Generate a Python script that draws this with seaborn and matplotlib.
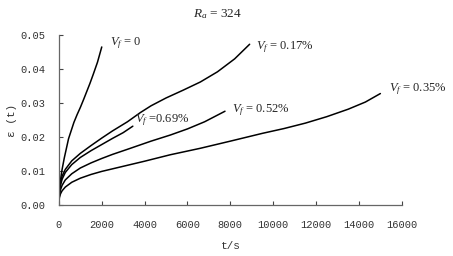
import numpy as np
import pandas as pd
import matplotlib
matplotlib.use("Agg")
import matplotlib.pyplot as plt
import seaborn as sns

# creep strain curves, Ra = 324
t_0 = [0, 25, 50, 100, 150, 250, 450, 700, 850, 1000, 1150, 1300, 1450, 1600, 1800, 2000]
eps_0 = [0.001, 0.004, 0.006, 0.0085, 0.0105, 0.0138, 0.0195, 0.0243, 0.0266, 0.0287,
         0.031, 0.0334, 0.0358, 0.0384, 0.042, 0.0465]

t_017 = [0, 25, 75, 150, 300, 600, 1000, 1500, 2000, 2500, 3200, 3800, 4300, 5000,
         5800, 6600, 7400, 8200, 8900]
eps_017 = [0.001, 0.004, 0.0065, 0.0085, 0.0105, 0.013, 0.0152, 0.0175, 0.0197, 0.0218,
           0.0245, 0.0272, 0.0292, 0.0315, 0.0338, 0.0362, 0.0392, 0.043, 0.0473]

t_069 = [0, 25, 75, 150, 300, 600, 1000, 1500, 2000, 2500, 3000, 3450]
eps_069 = [0.001, 0.0035, 0.0058, 0.0076, 0.0096, 0.0119, 0.014, 0.016, 0.0178, 0.0196,
           0.0213, 0.0232]

t_052 = [0, 25, 75, 150, 300, 600, 1000, 1500, 2000, 2500, 3200, 4300, 5200, 6000, 6800, 7750]
eps_052 = [0.001, 0.003, 0.0045, 0.0058, 0.0074, 0.0092, 0.0109, 0.0124, 0.0137, 0.0149,
           0.0164, 0.0188, 0.0206, 0.0224, 0.0245, 0.0276]

t_035 = [0, 25, 75, 150, 300, 600, 1000, 1500, 2000, 2800, 4000, 5200, 6600, 8000, 9500,
         10500, 11500, 12500, 13500, 14300, 15000]
eps_035 = [0.001, 0.0022, 0.0033, 0.0042, 0.0053, 0.0067, 0.0079, 0.009, 0.0099, 0.0111,
           0.0129, 0.0148, 0.0167, 0.0188, 0.0211, 0.0225, 0.0241, 0.026, 0.0282, 0.0303, 0.0328]

labels = ["$V_f$ = 0", "$V_f$ = 0.17%", "$V_f$ =0.69%", "$V_f$ = 0.52%", "$V_f$ = 0.35%"]
label_t = [2400, 9200, 3550, 8100, 15400]
label_eps = [0.0476, 0.0464, 0.0249, 0.0278, 0.034]

yticks = [0, 0.01, 0.02, 0.03, 0.04, 0.05]
ytick_labels = ["0.00", "0.01", "0.02", "0.03", "0.04", "0.05"]

sns.set_style("ticks")
plt.rcParams["mathtext.fontset"] = "custom"
plt.rcParams["mathtext.rm"] = "Liberation Serif"
plt.rcParams["mathtext.it"] = "Liberation Serif:italic"
plt.rcParams["xtick.direction"] = "in"
plt.rcParams["ytick.direction"] = "in"

fig = plt.figure(figsize=(4.53, 2.56), dpi=100)
ax = fig.add_axes([0.130, 0.199, 0.757, 0.664])

curves = [(t_0, eps_0), (t_017, eps_017), (t_069, eps_069), (t_052, eps_052), (t_035, eps_035)]
for t, e in curves:
    df = pd.DataFrame({"t": t, "eps": e})
    sns.lineplot(data=df, x="t", y="eps", ax=ax, color="black", lw=1.1)

for txt, x, y in zip(labels, label_t, label_eps):
    ax.text(x, y, txt, fontsize=9, family="Liberation Serif", va="center", ha="left")

ax.set_xlim(0, 16000)
ax.set_ylim(0, 0.05)
ax.set_xticks(range(0, 16001, 2000))
ax.set_yticks(yticks)
ax.set_yticklabels(ytick_labels)
ax.tick_params(labelsize=7.5, length=3, width=0.8, colors="#444444", labelcolor="#333333")
ax.tick_params(axis="x", pad=11)
ax.tick_params(axis="y", pad=10)
for lab in ax.get_xticklabels() + ax.get_yticklabels():
    lab.set_family("Liberation Mono")
for s in ["left", "bottom"]:
    ax.spines[s].set_color("#666666")
    ax.spines[s].set_linewidth(0.9)
sns.despine(ax=ax)

ax.set_xlabel("t/s", fontsize=8, family="Liberation Mono", color="#333333", labelpad=8)
ax.set_ylabel("ε (t)", fontsize=8, family="Liberation Mono", color="#333333", labelpad=2)
fig.text(0.479, 0.945, "$R_a$ = 324", fontsize=9.5, family="Liberation Serif",
         ha="center", va="center")

fig.savefig("out.png", dpi=100)
